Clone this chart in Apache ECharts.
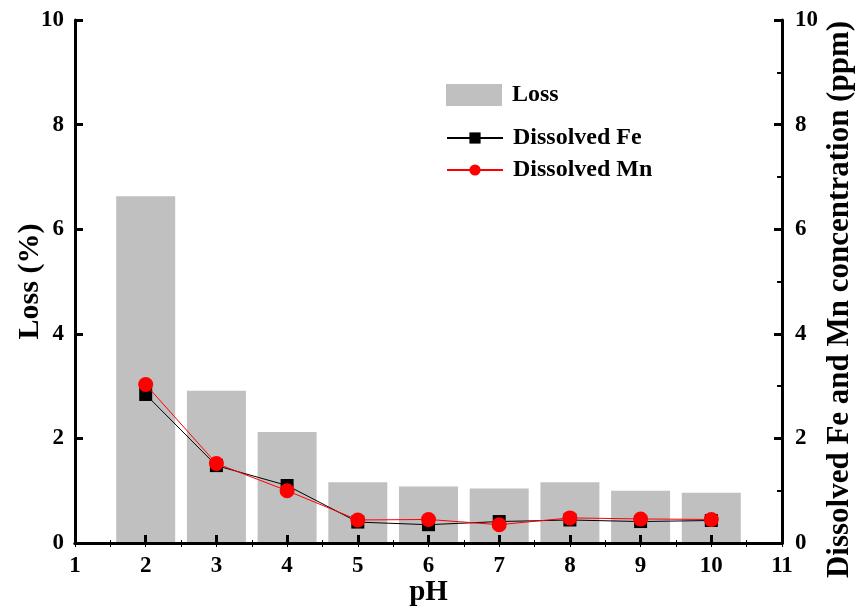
<!DOCTYPE html>
<html>
<head>
<meta charset="utf-8">
<script src="https://cdn.jsdelivr.net/npm/echarts@6/dist/echarts.min.js"></script>
<style>
  html, body { margin: 0; padding: 0; background: #fff; }
  #chart { width: 858px; height: 609px; }
</style>
</head>
<body>
<div id="chart"></div>
<script>
const pH = [2, 3, 4, 5, 6, 7, 8, 9, 10];
const lossPct = [6.63, 2.91, 2.12, 1.16, 1.08, 1.04, 1.16, 1.00, 0.96];
const dissolvedFe = [2.84, 1.48, 1.10, 0.40, 0.35, 0.41, 0.44, 0.41, 0.43];
const dissolvedMn = [3.03, 1.52, 1.00, 0.44, 0.45, 0.35, 0.48, 0.46, 0.45];

const font = "'Liberation Serif', 'Times New Roman', serif";
const ink = "#000";
const pairs = (ys) => ys.map((y, i) => [pH[i], y]);

const chart = echarts.init(document.getElementById("chart"), null, { renderer: "canvas" });
chart.setOption({
  animation: false,
  backgroundColor: "#fff",
  textStyle: { fontFamily: font, fontWeight: "bold", color: ink },
  grid: { left: 75, right: 76, top: 20, bottom: 66, outerBoundsMode: "none", containLabel: false },
  legend: [
    {
      data: [{ name: "Loss", icon: "rect" }],
      left: 441, top: 78,
      itemWidth: 56, itemHeight: 22, itemGap: 14,
      textStyle: { fontFamily: font, fontWeight: "bold", fontSize: 24, color: ink, padding: [0, 0, 0, 5] },
    },
    {
      data: ["Dissolved Fe", "Dissolved Mn"],
      orient: "vertical",
      left: 441, top: 121,
      itemWidth: 56, itemHeight: 14, itemGap: 8,
      textStyle: { fontFamily: font, fontWeight: "bold", fontSize: 24, color: ink, padding: [0, 0, 0, 5] },
    },
  ],
  xAxis: [
    {
      type: "value", min: 1, max: 11, interval: 1, z: 10,
      name: "pH", nameLocation: "middle", nameGap: 35, nameMoveOverlap: false,
      nameTextStyle: { fontFamily: font, fontWeight: "bold", fontSize: 29, color: ink },
      axisLine: { lineStyle: { color: ink, width: 3 } },
      axisTick: { inside: true, length: 8, lineStyle: { width: 3, color: ink } },
      minorTick: { show: true, splitNumber: 2, length: 3, lineStyle: { color: ink, width: 1 } },
      axisLabel: { margin: 12, fontFamily: font, fontWeight: "bold", fontSize: 23, color: ink },
      splitLine: { show: false },
    },
    {
      type: "value", min: 1, max: 11, interval: 1, position: "top", z: 10,
      axisLine: { lineStyle: { color: ink, width: 3 } },
      axisTick: { inside: true, length: 4, lineStyle: { width: 1, color: ink } },
      minorTick: { show: true, splitNumber: 2, length: 4, lineStyle: { color: ink, width: 1 } },
      axisLabel: { show: false },
      splitLine: { show: false },
    },
  ],
  yAxis: [
    {
      type: "value", min: 0, max: 10, interval: 2, z: 10,
      name: "Loss (%)", nameLocation: "middle", nameGap: 30, nameMoveOverlap: false,
      nameTextStyle: { fontFamily: font, fontWeight: "bold", fontSize: 30, color: ink },
      axisLine: { show: true, lineStyle: { color: ink, width: 3 } },
      axisTick: { show: true, inside: true, length: 8, lineStyle: { width: 3, color: ink } },
      axisLabel: { margin: 11, fontFamily: font, fontWeight: "bold", fontSize: 23, color: ink },
      splitLine: { show: false },
    },
    {
      type: "value", min: 0, max: 10, interval: 2, position: "right", z: 10,
      name: "Dissolved Fe and Mn concentration (ppm)", nameLocation: "middle", nameGap: 42,
      nameRotate: 90, nameMoveOverlap: false,
      nameTextStyle: { fontFamily: font, fontWeight: "bold", fontSize: 31, color: ink, padding: [0, 36, 0, 0] },
      axisLine: { show: true, lineStyle: { color: ink, width: 3 } },
      axisTick: { show: true, inside: true, length: 8, lineStyle: { width: 3, color: ink } },
      minorTick: { show: true, splitNumber: 2, length: 5, lineStyle: { color: ink, width: 2 } },
      axisLabel: { margin: 13, fontFamily: font, fontWeight: "bold", fontSize: 23, color: ink },
      splitLine: { show: false },
    },
  ],
  series: [
    {
      name: "Loss", type: "bar", xAxisIndex: 0, yAxisIndex: 0,
      data: pairs(lossPct), barWidth: 59,
      itemStyle: { color: "#c0c0c0" },
    },
    {
      name: "Dissolved Fe", type: "line", xAxisIndex: 0, yAxisIndex: 1,
      data: pairs(dissolvedFe),
      symbol: "rect", symbolSize: 13,
      lineStyle: { color: ink, width: 1 },
      itemStyle: { color: ink },
      z: 3,
    },
    {
      name: "Dissolved Mn", type: "line", xAxisIndex: 0, yAxisIndex: 1,
      data: pairs(dissolvedMn),
      symbol: "circle", symbolSize: 15,
      lineStyle: { color: "#ff0000", width: 1 },
      itemStyle: { color: "#ff0000" },
      z: 4,
    },
  ],
});
</script>
</body>
</html>
